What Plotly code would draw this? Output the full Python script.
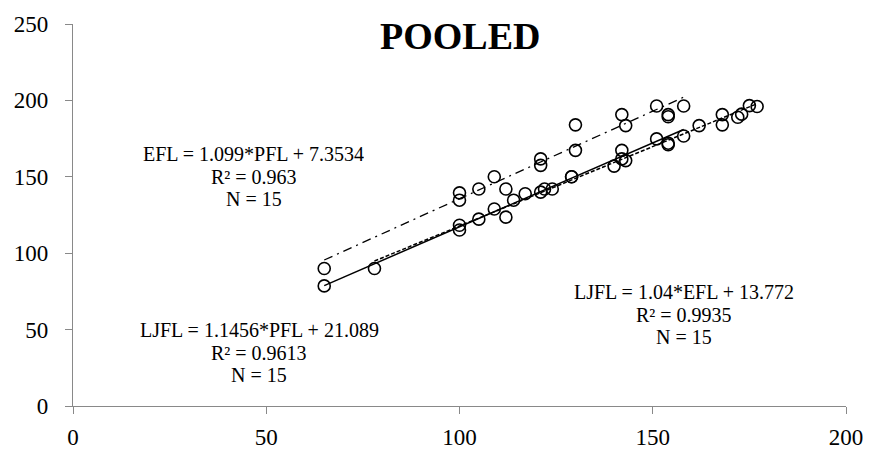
import plotly.graph_objects as go

# Data
# LJFL vs PFL (dash-dot trend)
ljfl_pfl_x = [65, 100, 100, 105, 109, 121, 121, 130, 130, 142, 143, 151, 154, 154, 158]
ljfl_pfl_y = [90, 139.5, 134.7, 142, 150, 161.7, 157.5, 167.3, 184, 190.7, 183.5, 196.3, 190.7, 189.3, 196.3]
# EFL vs PFL (solid trend)
efl_pfl_x = [65, 100, 100, 105, 109, 112, 121, 122, 129, 142, 143, 151, 154, 154, 158]
efl_pfl_y = [78.6, 118.3, 115.2, 122.3, 128.9, 123.6, 140, 142, 150, 161.7, 160.6, 174.8, 172, 171, 176.7]
# LJFL vs EFL (dashed trend)
ljfl_efl_x = [78, 112, 114, 117, 124, 129, 140, 142, 162, 168, 168, 172, 173, 175, 177]
ljfl_efl_y = [90, 142, 134.7, 138.9, 142, 150, 157, 167.3, 183.5, 190.7, 184, 189, 191, 196.6, 196]

# Trend equations shown on the chart (slope, intercept)
fit_efl_pfl = (1.099, 7.3534)
fit_ljfl_pfl = (1.1456, 21.089)
fit_ljfl_efl = (1.04, 13.772)

label_efl_pfl = ["EFL = 1.099*PFL + 7.3534", "R² = 0.963", "N = 15"]
label_ljfl_pfl = ["LJFL = 1.1456*PFL + 21.089", "R² = 0.9613", "N = 15"]
label_ljfl_efl = ["LJFL = 1.04*EFL + 13.772", "R² = 0.9935", "N = 15"]

x_ticks = [0, 50, 100, 150, 200]
y_ticks = [0, 50, 100, 150, 200, 250]

FONT = "Liberation Serif, Times New Roman, serif"

fig = go.Figure()

def trend(xs, fit):
    a, b = fit
    x0, x1 = min(xs), max(xs)
    return [x0, x1], [a * x0 + b, a * x1 + b]

lx, ly = trend(ljfl_pfl_x, fit_ljfl_pfl)
fig.add_trace(go.Scatter(x=lx, y=ly, mode="lines",
                         line=dict(color="black", width=1.3, dash="9px,5px,2px,5px"),
                         showlegend=False, hoverinfo="skip"))
lx, ly = trend(efl_pfl_x, fit_efl_pfl)
fig.add_trace(go.Scatter(x=lx, y=ly, mode="lines",
                         line=dict(color="black", width=1.5),
                         showlegend=False, hoverinfo="skip"))
lx, ly = trend(ljfl_efl_x, fit_ljfl_efl)
fig.add_trace(go.Scatter(x=lx, y=ly, mode="lines",
                         line=dict(color="black", width=1.5, dash="4px,2px"),
                         showlegend=False, hoverinfo="skip"))

for xs, ys in [(ljfl_pfl_x, ljfl_pfl_y), (efl_pfl_x, efl_pfl_y), (ljfl_efl_x, ljfl_efl_y)]:
    fig.add_trace(go.Scatter(x=xs, y=ys, mode="markers",
                             marker=dict(symbol="circle-open", size=12,
                                         color="black", line=dict(color="black", width=1.6)),
                             showlegend=False))

ann_font = dict(family=FONT, size=20, color="black")

def add_block(lines, xc, ys):
    for txt, yv in zip(lines, ys):
        fig.add_annotation(x=xc, y=yv, xref="x", yref="y", showarrow=False,
                           font=ann_font, text=txt, xanchor="center", yanchor="middle",
                           height=23, borderpad=0)

add_block(label_efl_pfl, 46.8, [165.0, 150.4, 135.8])
add_block(label_ljfl_pfl, 48.2, [49.8, 35.2, 20.6])
add_block(label_ljfl_efl, 158.2, [74.8, 60.2, 45.6])

fig.add_annotation(x=100, y=242.0, xref="x", yref="y", yanchor="middle", showarrow=False,
                   text="<b>POOLED</b>", font=dict(family=FONT, size=38, color="black"))

axis_common = dict(showgrid=False, zeroline=False, showline=True, linecolor="#898989",
                   linewidth=1.3, ticks="outside", ticklen=7, tickcolor="#898989",
                   tickwidth=1.3, tickfont=dict(family=FONT, size=23, color="black"))
fig.update_xaxes(range=[0, 200], tickvals=x_ticks, ticklabelstandoff=3, **axis_common)
fig.update_yaxes(range=[0, 250], tickvals=y_ticks, ticklabelstandoff=12, **axis_common)

fig.update_layout(width=875, height=462, plot_bgcolor="white", paper_bgcolor="white",
                  margin=dict(l=73, r=24, t=17, b=45), showlegend=False)

fig.write_html("out.html", config={"displayModeBar": False},
               post_script="document.body.style.margin='0';document.body.style.overflow='hidden';")
